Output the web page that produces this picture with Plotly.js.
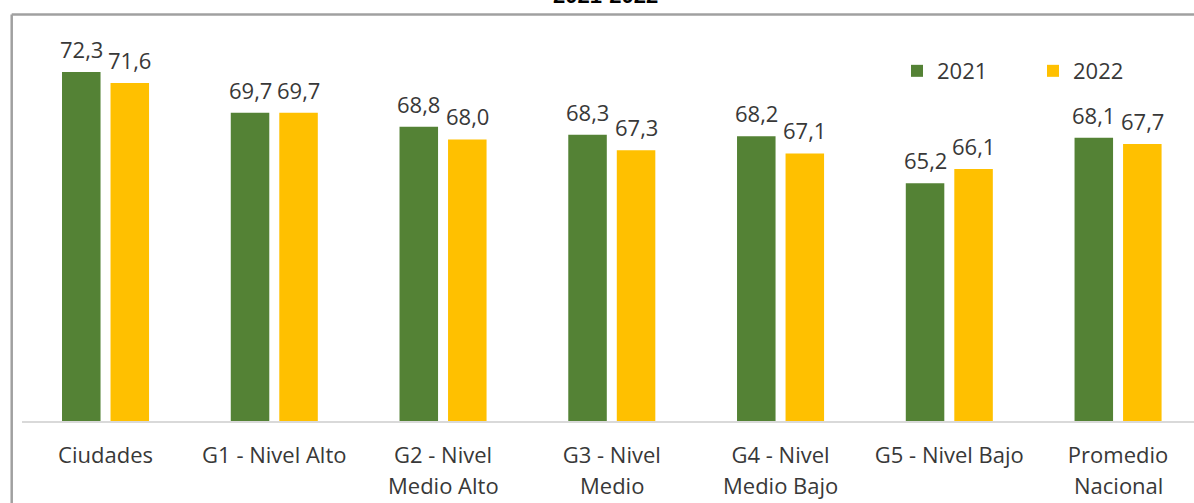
<!DOCTYPE html>
<html>
<head>
<meta charset="utf-8">
<script src="https://cdn.plot.ly/plotly-3.0.1.min.js"></script>
<style>html,body{margin:0;padding:0;background:#fff;}#chart{width:1194px;height:503px;}</style>
</head>
<body>
<div id="chart"></div>
<script>
var categories = ["Ciudades", "G1 - Nivel Alto", "G2 - Nivel Medio Alto", "G3 - Nivel Medio", "G4 - Nivel Medio Bajo", "G5 - Nivel Bajo", "Promedio Nacional"];
var tickLine1 = ["Ciudades", "G1 - Nivel Alto", "G2 - Nivel", "G3 - Nivel", "G4 - Nivel", "G5 - Nivel Bajo", "Promedio"];
var tickLine2 = ["", "", "Medio Alto", "Medio", "Medio Bajo", "", "Nacional"];
var values2021 = [72.3, 69.7, 68.8, 68.3, 68.2, 65.2, 68.1];
var values2022 = [71.6, 69.7, 68.0, 67.3, 67.1, 66.1, 67.7];
var seriesNames = ["2021", "2022"];

var colors = ["#548235", "#FFC000"];
var labelColor = "#383838";
var fontFam = "Open Sans, sans-serif";
function fmt(v){ return v.toFixed(1).replace('.', ','); }

var traces = [values2021, values2022].map(function(vals, i){
  return {
    type: 'bar', name: seriesNames[i], x: categories, y: vals,
    marker: {color: colors[i]}, hoverinfo: 'x+y'
  };
});

var annotations = [];
var slot = 48.5;
[values2021, values2022].forEach(function(vals, i){
  vals.forEach(function(v, j){
    annotations.push({
      x: categories[j], y: v, xref: 'x', yref: 'y',
      xshift: (i === 0 ? -1 : 1) * slot / 2,
      yanchor: 'bottom', yshift: 6, showarrow: false,
      text: fmt(v), font: {family: fontFam, size: 22, color: labelColor}
    });
  });
});
tickLine2.forEach(function(t, j){
  if (!t) return;
  annotations.push({
    x: categories[j], y: 0, xref: 'x', yref: 'paper',
    yanchor: 'top', yshift: -47, showarrow: false,
    text: t, font: {family: fontFam, size: 22, color: labelColor}
  });
});
annotations.push({
  x: (605 - 22) / 1172, y: 1, xref: 'paper', yref: 'paper',
  yanchor: 'bottom', yshift: 5, showarrow: false,
  text: '<b>2021-2022</b>', font: {family: 'Liberation Sans, Arial, sans-serif', size: 22, color: '#000'}
});

var layout = {
  width: 1194, height: 503,
  margin: {l: 22, r: 0, t: 15, b: 82, pad: 0},
  paper_bgcolor: '#fff', plot_bgcolor: '#fff',
  barmode: 'group', bargap: 0.425, bargroupgap: 0.206,
  showlegend: true,
  legend: {
    orientation: 'h', x: (897 - 22) / 1172, y: 0.862, xanchor: 'left', yanchor: 'middle',
    font: {family: fontFam, size: 22, color: labelColor},
    entrywidth: 91, entrywidthmode: 'pixels', bgcolor: 'rgba(0,0,0,0)'
  },
  xaxis: {
    type: 'category', range: [-0.495, 6.45], showgrid: false, zeroline: false,
    showline: true, linecolor: '#d9d9d9', linewidth: 2,
    tickmode: 'array', tickvals: categories, ticktext: tickLine1, ticks: '',
    ticklabelstandoff: 14,
    tickfont: {family: fontFam, size: 22, color: labelColor}, fixedrange: true
  },
  yaxis: {
    range: [50, 75.95], showgrid: false, zeroline: false, showline: false,
    showticklabels: false, ticks: '', fixedrange: true
  },
  annotations: annotations,
  shapes: [
    {type: 'line', xref: 'paper', yref: 'paper', x0: (11.7 - 22) / 1172, x1: 1.02, y0: 1.001, y1: 1.001,
     line: {color: '#a0a0a0', width: 2.5}},
    {type: 'line', xref: 'paper', yref: 'paper', x0: (11.7 - 22) / 1172, x1: (11.7 - 22) / 1172, y0: 1.001, y1: -0.3,
     line: {color: '#a0a0a0', width: 2.5}}
  ]
};

Plotly.newPlot('chart', traces, layout, {displayModeBar: false, staticPlot: true});
</script>
</body>
</html>
